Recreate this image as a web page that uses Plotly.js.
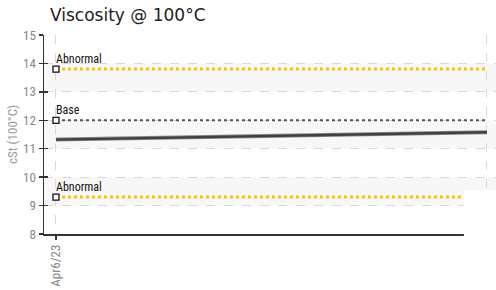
<!DOCTYPE html>
<html>
<head>
<meta charset="utf-8">
<script src="https://cdn.plot.ly/plotly-3.0.1.min.js"></script>
<style>html,body{margin:0;padding:0;background:#fff}#chart{width:496px;height:290px}</style>
</head>
<body>
<div id="chart"></div>
<script>
// Data
const xPos = [0, 1];
const xTickText = ['Apr6/23', ''];
const viscosity = [11.32, 11.58];
const upperAbnormal = [13.8, 13.8];
const baseValue = [12.0, 12.0];
const lowerAbnormal = [9.3, 9.3];
const lowerAbnormalX = [0, 0.945];
const refLabels = ['Abnormal', 'Base', 'Abnormal'];
const bandRanges = [[9, 10], [11, 12], [13, 14]];
const yTicks = [8, 9, 10, 11, 12, 13, 14, 15];

const narrow = '"Liberation Sans Narrow", "Arial Narrow", "Roboto Condensed", "Liberation Sans", sans-serif';
const yellow = '#f7c600';

const traces = [
  {x: xPos, y: upperAbnormal, mode: 'lines', line: {color: yellow, width: 3, dash: 'dot'}, hoverinfo: 'skip'},
  {x: lowerAbnormalX, y: lowerAbnormal, mode: 'lines', line: {color: yellow, width: 3, dash: 'dot'}, hoverinfo: 'skip'},
  {x: xPos, y: baseValue, mode: 'lines', line: {color: '#555', width: 2, dash: 'dot'}, hoverinfo: 'skip'},
  {x: xPos, y: viscosity, mode: 'lines', line: {color: '#8a8a8a', width: 4}, hoverinfo: 'skip'},
  {x: xPos, y: viscosity, mode: 'lines', line: {color: '#404040', width: 2.4}, hoverinfo: 'skip'},
  {x: [0, 0, 0], y: [upperAbnormal[0], baseValue[0], lowerAbnormal[0]], mode: 'markers',
   marker: {symbol: 'square', size: 6, color: '#fff', line: {color: '#111', width: 1.3}}, hoverinfo: 'skip'},
  {x: [0], y: [8], xaxis: 'x', yaxis: 'y2', mode: 'markers', marker: {opacity: 0}, hoverinfo: 'skip'}
];

const shapes = bandRanges.map(b => ({
  type: 'rect', xref: 'paper', yref: 'y', x0: 0, x1: 1, y0: b[0], y1: b[1],
  fillcolor: '#f7f7f7', line: {width: 0}, layer: 'below'
}));
shapes.push({type: 'rect', xref: 'paper', yref: 'paper', x0: 0.929, x1: 1.05, y0: 0.221, y1: -0.35,
  fillcolor: '#fff', line: {width: 0}, layer: 'above'});

const labelY = [upperAbnormal[0], baseValue[0], lowerAbnormal[0]];
const annotations = refLabels.map((t, i) => ({
  x: 0, y: labelY[i], xref: 'x', yref: 'y', text: t, showarrow: false,
  xanchor: 'left', yanchor: 'bottom', xshift: -2, yshift: 1,
  font: {family: narrow, size: 12, color: '#111'}
}));

const layout = {
  width: 496, height: 290,
  margin: {l: 44, r: 0, t: 35, b: 56},
  paper_bgcolor: '#fff', plot_bgcolor: '#fff',
  showlegend: false,
  title: {text: 'Viscosity @ 100°C', x: 50/496, xanchor: 'left', y: 1 - 15/290, yanchor: 'middle',
          font: {family: '"DejaVu Sans", Verdana, sans-serif', size: 17, color: '#222'}},
  xaxis: {
    range: [-0.0278, 1.0209], tickvals: xPos, ticktext: xTickText, tickangle: -90,
    showgrid: true, gridcolor: '#d8d8d8', griddash: 'dash', gridwidth: 1,
    zeroline: false, showline: true, linecolor: '#333', linewidth: 1.5,
    ticks: 'outside', ticklen: 4, tickcolor: '#333', tickwidth: 1.5,
    tickfont: {family: narrow, size: 13, color: '#888'}
  },
  yaxis: {
    range: [8, 15], tickvals: yTicks,
    showgrid: true, gridcolor: '#d8d8d8', griddash: 'dash', gridwidth: 1,
    zeroline: false, showline: true, linecolor: '#333', linewidth: 1.5,
    ticks: 'outside', ticklen: 4, tickcolor: '#333', tickwidth: 1.5,
    tickfont: {family: narrow, size: 13, color: '#888'},
    title: {text: 'cSt (100°C)', standoff: 2, font: {family: narrow, size: 13, color: '#999'}}
  },
  yaxis2: {
    overlaying: 'y', side: 'left', range: [8, 15], tickvals: yTicks, showticklabels: false,
    showgrid: false, zeroline: false, showline: false,
    ticks: 'inside', ticklen: 4, tickcolor: '#333', tickwidth: 1.5
  },
  shapes: shapes,
  annotations: annotations
};

Plotly.newPlot('chart', traces, layout, {displayModeBar: false, staticPlot: true});
</script>
</body>
</html>
